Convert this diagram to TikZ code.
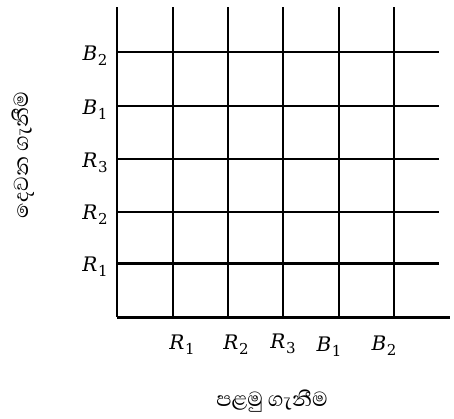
\documentclass[tikz,border=0pt]{standalone}
\usepackage{fontspec}
\newfontfamily\sinfont[Script=Sinhala]{Abhaya Libre}
\newfontfamily\labfont{DejaVu Serif}
\newcommand\lbsub[2]{{\itshape #1}\kern0.6pt\raisebox{-4.8pt}{\fontsize{15}{15}\selectfont #2}}
\begin{document}
\begin{tikzpicture}[x=1pt,y=-1pt,
  gridline/.style={line width=2pt,black},
  lab/.style={font=\labfont\fontsize{20}{23}\selectfont,inner sep=0pt},
  sin/.style={font=\sinfont\fontsize{26}{30}\selectfont,inner sep=0pt}]
\useasboundingbox (0,0) rectangle (454,418);
% vertical lines
\foreach \x in {117,172.5,228,283,338.5,394}
  \draw[gridline] (\x,7) -- (\x,317);
% horizontal lines
\foreach \y in {52,106,159,212}
  \draw[gridline] (117,\y) -- (439,\y);
\draw[line width=3pt] (117,263) -- (439,263);
\draw[line width=3pt] (117,317) -- (450,317);
% y labels
\node[lab] (yB2) at (95,56) {\lbsub{B}{2}};
\node[lab] (yB1) at (95,110) {\lbsub{B}{1}};
\node[lab] (yR3) at (95,163) {\lbsub{R}{3}};
\node[lab] (yR2) at (95,215) {\lbsub{R}{2}};
\node[lab] (yR1) at (95,267) {\lbsub{R}{1}};
% x labels
\node[lab] (xR1) at (182,345) {\lbsub{R}{1}};
\node[lab] (xR2) at (236,345) {\lbsub{R}{2}};
\node[lab] (xR3) at (283,344) {\lbsub{R}{3}};
\node[lab] (xB1) at (329,347) {\lbsub{B}{1}};
\node[lab] (xB2) at (384,346) {\lbsub{B}{2}};
% axis titles
\node[sin] (xt) at (272,401) {පළමු ගැනීම};
\node[sin,rotate=90] (yt) at (23,155) {දෙවන ගැනීම};
\end{tikzpicture}
\end{document}
